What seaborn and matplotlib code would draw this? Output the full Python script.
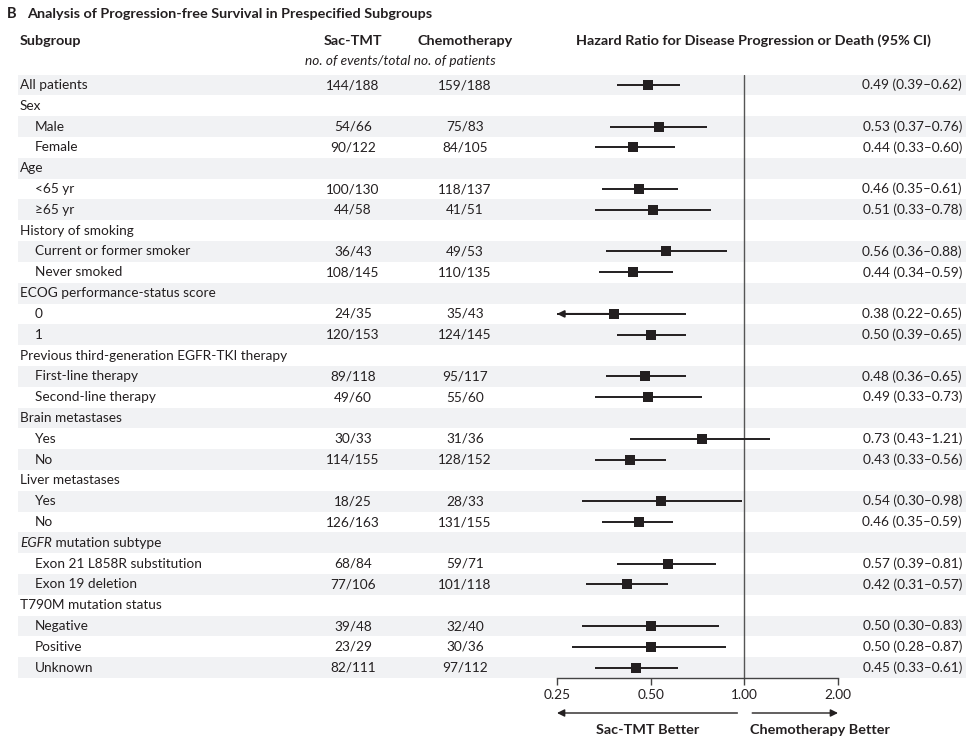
import numpy as np
import pandas as pd
import matplotlib
matplotlib.use("Agg")
import matplotlib.pyplot as plt
import seaborn as sns

# ---- data ----
labels = ["All patients", "Sex", "Male", "Female", "Age", "<65 yr", "\u226565 yr",
          "History of smoking", "Current or former smoker", "Never smoked",
          "ECOG performance-status score", "0", "1",
          "Previous third-generation EGFR-TKI therapy", "First-line therapy",
          "Second-line therapy", "Brain metastases", "Yes", "No",
          "Liver metastases", "Yes", "No", "EGFR mutation subtype",
          "Exon 21 L858R substitution", "Exon 19 deletion",
          "T790M mutation status", "Negative", "Positive", "Unknown"]
# 0 = top-level row, 1 = indented subgroup
indent = [0, 0, 1, 1, 0, 1, 1, 0, 1, 1, 0, 1, 1, 0, 1, 1, 0, 1, 1,
          0, 1, 1, 0, 1, 1, 0, 1, 1, 1]
sac_tmt = ["144/188", "", "54/66", "90/122", "", "100/130", "44/58", "",
           "36/43", "108/145", "", "24/35", "120/153", "", "89/118", "49/60",
           "", "30/33", "114/155", "", "18/25", "126/163", "", "68/84",
           "77/106", "", "39/48", "23/29", "82/111"]
chemo = ["159/188", "", "75/83", "84/105", "", "118/137", "41/51", "",
         "49/53", "110/135", "", "35/43", "124/145", "", "95/117", "55/60",
         "", "31/36", "128/152", "", "28/33", "131/155", "", "59/71",
         "101/118", "", "32/40", "30/36", "97/112"]
hr = [0.49, None, 0.53, 0.44, None, 0.46, 0.51, None, 0.56, 0.44, None, 0.38,
      0.50, None, 0.48, 0.49, None, 0.73, 0.43, None, 0.54, 0.46, None, 0.57,
      0.42, None, 0.50, 0.50, 0.45]
lo = [0.39, None, 0.37, 0.33, None, 0.35, 0.33, None, 0.36, 0.34, None, 0.22,
      0.39, None, 0.36, 0.33, None, 0.43, 0.33, None, 0.30, 0.35, None, 0.39,
      0.31, None, 0.30, 0.28, 0.33]
hi = [0.62, None, 0.76, 0.60, None, 0.61, 0.78, None, 0.88, 0.59, None, 0.65,
      0.65, None, 0.65, 0.73, None, 1.21, 0.56, None, 0.98, 0.59, None, 0.81,
      0.57, None, 0.83, 0.87, 0.61]
xticks = [0.25, 0.5, 1.0, 2.0]
xtick_labels = ["0.25", "0.50", "1.00", "2.00"]

df = pd.DataFrame({"label": labels, "indent": indent, "sac": sac_tmt,
                   "chemo": chemo, "hr": hr, "lo": lo, "hi": hi})
df["row"] = np.arange(len(df))

sns.set_theme(style="white")
plt.rcParams["font.family"] = ["Lato", "DejaVu Sans"]
FS = 9.8
HFS = 10.4
INK = "#231f20"
STRIPE = "#f1f2f4"

W, H = 975, 750
fig = plt.figure(figsize=(W / 100, H / 100), dpi=100)

# layout in pixels
y0, rh = 85.0, 20.81
n = len(df)
xmin_px, xmax_px = 557, 838
top_px, bot_px = y0 - rh / 2, y0 + (n - 0.5) * rh

# background axis: x in pixels, y in row units
bg = fig.add_axes([0, 0, 1, 1])
bg.set_xlim(0, W)
bg.set_ylim((H - y0) / rh, -y0 / rh)
bg.axis("off")

for r in df["row"]:
    if r % 2 == 0:
        bg.axhspan(r - 0.5, r + 0.5, xmin=18 / W, xmax=966 / W,
                   color=STRIPE, lw=0, zorder=0)

for _, d in df.iterrows():
    x = 20 if d["indent"] == 0 else 35
    if d["label"] == "EGFR mutation subtype":
        t = bg.text(x, d["row"], "EGFR", style="italic", fontsize=FS,
                    color=INK, va="center", ha="left")
        bg.annotate(" mutation subtype", xycoords=t, xy=(1, 0.5), va="center",
                    ha="left", fontsize=FS, color=INK)
    else:
        bg.text(x, d["row"], d["label"], fontsize=FS, color=INK,
                va="center", ha="left")
    bg.text(353, d["row"], d["sac"], fontsize=FS, color=INK,
            va="center", ha="center")
    bg.text(465, d["row"], d["chemo"], fontsize=FS, color=INK,
            va="center", ha="center")
    if d["hr"] is not None and not pd.isna(d["hr"]):
        bg.text(962, d["row"], f"{d['hr']:.2f} ({d['lo']:.2f}\u2013{d['hi']:.2f})",
                fontsize=FS, color=INK, va="center", ha="right")

# headers
bg.text(7, (14 - y0) / rh, "B", fontsize=10.5, fontweight="bold", color=INK,
        va="center", ha="left")
bg.text(27, (14 - y0) / rh, "Analysis of Progression-free Survival in Prespecified Subgroups",
        fontsize=10.4, fontweight="bold", color=INK, va="center", ha="left")
hy = (41 - y0) / rh
bg.text(20, hy, "Subgroup", fontsize=HFS, fontweight="bold", color=INK,
        va="center", ha="left")
bg.text(353, hy, "Sac-TMT", fontsize=HFS, fontweight="bold", color=INK,
        va="center", ha="center")
bg.text(465, hy, "Chemotherapy", fontsize=HFS, fontweight="bold", color=INK,
        va="center", ha="center")
bg.text(753, hy, "Hazard Ratio for Disease Progression or Death (95% CI)",
        fontsize=HFS, fontweight="bold", color=INK, va="center", ha="center")
bg.text(400, (61 - y0) / rh, "no. of events/total no. of patients",
        fontsize=FS, style="italic", color=INK, va="center", ha="center")

# forest axis
ax = fig.add_axes([xmin_px / W, (H - bot_px) / H, (xmax_px - xmin_px) / W,
                   (bot_px - top_px) / H])
ax.patch.set_alpha(0)
ax.set_xscale("log", base=2)
for s in ["top", "left", "right"]:
    ax.spines[s].set_visible(False)
ax.spines["bottom"].set_color("#444444")
ax.spines["bottom"].set_linewidth(1.0)
ax.axvline(1.0, color="#555555", lw=1.0, zorder=1)

est = df.dropna(subset=["hr"]).copy()
est["lo_c"] = est["lo"].clip(lower=0.25)
ax.hlines(est["row"], est["lo_c"], est["hi"], color=INK, lw=1.4, zorder=2)
for _, d in est[est["lo"] < 0.25].iterrows():
    ax.annotate("", xy=(0.25, d["row"]), xytext=(d["hr"], d["row"]),
                arrowprops=dict(arrowstyle="-|>", color=INK, lw=1.4,
                                mutation_scale=10, shrinkA=0, shrinkB=0),
                annotation_clip=False)
sns.scatterplot(data=est, x="hr", y="row", marker="s", s=50, color=INK,
                edgecolor=INK, linewidth=0, ax=ax, zorder=3, legend=False)
ax.set_xlabel("")
ax.set_ylabel("")
ax.set_xlim(0.25, 2.0)
ax.set_ylim(n - 0.5, -0.5)
ax.set_xticks(xticks)
ax.set_xticklabels(xtick_labels)
ax.minorticks_off()
ax.tick_params(axis="x", direction="out", length=5, width=1.0, color="#444444",
               labelsize=FS, labelcolor=INK, pad=3, bottom=True)
ax.set_yticks([])

# direction arrows and labels under the axis
ay = (713 - y0) / rh
ax.annotate("", xy=(0.25, ay), xytext=(0.95, ay),
            arrowprops=dict(arrowstyle="-|>", color=INK, lw=1.0,
                            mutation_scale=11, shrinkA=0, shrinkB=0),
            annotation_clip=False)
ax.annotate("", xy=(2.0, ay), xytext=(1.06, ay),
            arrowprops=dict(arrowstyle="-|>", color=INK, lw=1.0,
                            mutation_scale=11, shrinkA=0, shrinkB=0),
            annotation_clip=False)
ly = (730 - y0) / rh
bg.text(648, ly, "Sac-TMT Better", fontsize=HFS, fontweight="bold",
        color=INK, va="center", ha="center")
bg.text(820, ly, "Chemotherapy Better", fontsize=HFS, fontweight="bold",
        color=INK, va="center", ha="center")

fig.savefig("out.png", dpi=100)
